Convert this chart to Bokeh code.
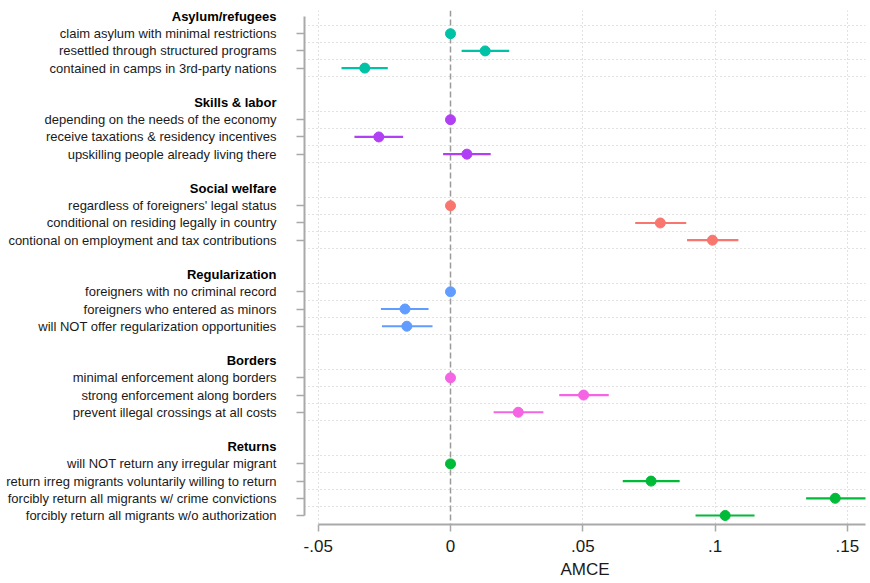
from bokeh.plotting import figure
from bokeh.layouts import row
from bokeh.models import Range1d, FixedTicker, Span, ColumnDataSource
from bokeh.core.properties import value
from bokeh.embed import file_html
from bokeh.resources import INLINE

# ---------------- data ----------------
group_names = ["Asylum/refugees", "Skills & labor", "Social welfare",
               "Regularization", "Borders", "Returns"]
group_colors = ["#00C2A6", "#B140F5", "#F8766D", "#619CFF", "#F564E3", "#00BA38"]

level_labels = [
    "claim asylum with minimal restrictions",
    "resettled through structured programs",
    "contained in camps in 3rd-party nations",
    "depending on the needs of the economy",
    "receive taxations & residency incentives",
    "upskilling people already living there",
    "regardless of foreigners' legal status",
    "conditional on residing legally in country",
    "contional on employment and tax contributions",
    "foreigners with no criminal record",
    "foreigners who entered as minors",
    "will NOT offer regularization opportunities",
    "minimal enforcement along borders",
    "strong enforcement along borders",
    "prevent illegal crossings at all costs",
    "will NOT return any irregular migrant",
    "return irreg migrants voluntarily willing to return",
    "forcibly return all migrants w/ crime convictions",
    "forcibly return all migrants w/o authorization",
]
level_groups = [0, 0, 0, 1, 1, 1, 2, 2, 2, 3, 3, 3, 4, 4, 4, 5, 5, 5, 5]
estimates = [0.0, 0.0131, -0.0324,
             0.0, -0.0271, 0.0062,
             0.0, 0.0793, 0.0990,
             0.0, -0.0172, -0.0165,
             0.0, 0.0503, 0.0256,
             0.0, 0.0758, 0.1454, 0.1038]
ci_low = [None, 0.0042, -0.0412,
          None, -0.0363, -0.0028,
          None, 0.0698, 0.0894,
          None, -0.0263, -0.0259,
          None, 0.0411, 0.0163,
          None, 0.0651, 0.1344, 0.0926]
ci_high = [None, 0.0222, -0.0237,
           None, -0.0179, 0.0152,
           None, 0.0891, 0.1088,
           None, -0.0083, -0.0068,
           None, 0.0598, 0.0351,
           None, 0.0866, 0.1580, 0.1149]

x_ticks = [-0.05, 0.0, 0.05, 0.1, 0.15]
x_tick_labels = ["-.05", "0", ".05", ".1", ".15"]
x_axis_title = "AMCE"

# ---------------- row layout ----------------
header_rows = []
level_rows = []
r = 0
for g in range(len(group_names)):
    header_rows.append(r)
    r += 1
    for i, lg in enumerate(level_groups):
        if lg == g:
            level_rows.append(r)
            r += 1
    r += 1
last_row = level_rows[-1]
grid_rows = [k - 0.5 for k in range(1, last_row + 1) if k not in header_rows]

# ---------------- styling constants ----------------
FONT = "Liberation Sans"
AXIS_GRAY = "#a9a9a9"
TEXT_COL = "#1a1a1a"
TOTAL_W, TOTAL_H = 870, 583
LABEL_W = 290          # width of the label panel
TOP, BOTTOM = 10, 59   # frame borders
ROW_PX = 17.207        # pixels per row
ROW0_PX = 16           # page y of row 0

y_range = Range1d((TOTAL_H - BOTTOM - ROW0_PX) / ROW_PX, (TOP - ROW0_PX) / ROW_PX)

# ---------------- label panel (left) ----------------
pl = figure(width=LABEL_W, height=TOTAL_H, output_backend="svg", toolbar_location=None,
            x_range=Range1d(0, LABEL_W), y_range=y_range,
            x_axis_location=None, y_axis_location=None,
            min_border_left=0, min_border_right=0,
            min_border_top=TOP, min_border_bottom=BOTTOM)
pl.outline_line_color = None
pl.xgrid.visible = False
pl.ygrid.visible = False

label_x = LABEL_W - 14
pl.text(x=[label_x] * len(level_labels), y=level_rows, text=level_labels,
        text_align="right", text_baseline="middle",
        text_font=value(FONT), text_font_size="13px", text_color=TEXT_COL)
pl.text(x=[label_x] * len(group_names), y=header_rows, text=group_names,
        text_align="right", text_baseline="middle",
        text_font=value(FONT), text_font_size="13px", text_font_style="bold",
        text_color="#000000")

# ---------------- coefficient panel (right) ----------------
p = figure(width=TOTAL_W - LABEL_W, height=TOTAL_H, output_backend="svg",
           toolbar_location=None,
           x_range=Range1d(-0.05518, 0.15684), y_range=y_range,
           min_border_left=14, min_border_right=5,
           min_border_top=TOP, min_border_bottom=BOTTOM)
p.outline_line_color = None

xa = p.xaxis[0]
xa.ticker = FixedTicker(ticks=x_ticks)
xa.major_label_overrides = {t: l for t, l in zip(x_ticks, x_tick_labels)}
xa.bounds = (x_ticks[0], 0.15684)
xa.axis_line_color = AXIS_GRAY
xa.axis_line_width = 2
xa.major_tick_line_color = AXIS_GRAY
xa.major_tick_line_width = 1.5
xa.major_tick_in = 0
xa.major_tick_out = 7
xa.minor_tick_line_color = None
xa.major_label_text_font = FONT
xa.major_label_text_font_size = "17px"
xa.major_label_text_color = TEXT_COL
xa.major_label_standoff = 8
xa.axis_label = x_axis_title
xa.axis_label_text_font = FONT
xa.axis_label_text_font_size = "17px"
xa.axis_label_text_font_style = "normal"
xa.axis_label_text_color = TEXT_COL
xa.axis_label_standoff = 5

ya = p.yaxis[0]
ya.ticker = FixedTicker(ticks=level_rows)
ya.major_label_overrides = {k: "" for k in level_rows}
ya.major_label_text_font_size = "0px"
ya.major_label_standoff = 0
ya.bounds = (header_rows[0], last_row)
ya.axis_line_color = AXIS_GRAY
ya.axis_line_width = 2
ya.major_tick_line_color = AXIS_GRAY
ya.major_tick_line_width = 1.5
ya.major_tick_in = 0
ya.major_tick_out = 8
ya.minor_tick_line_color = None

p.xgrid.ticker = FixedTicker(ticks=[t for t in x_ticks if t != 0])
p.xgrid.grid_line_color = "#c4c4c4"
p.xgrid.grid_line_dash = "1 3"
p.ygrid.ticker = FixedTicker(ticks=grid_rows)
p.ygrid.grid_line_color = "#c4c4c4"
p.ygrid.grid_line_dash = "1 3"

p.add_layout(Span(location=0, dimension="height", line_color="#9a9a9a",
                  line_dash="6 3", line_width=1.5, level="underlay"))

seg = dict(x0=[], x1=[], y=[], color=[])
pts = dict(x=[], y=[], color=[])
for i in range(len(level_labels)):
    c = group_colors[level_groups[i]]
    if ci_low[i] is not None:
        seg["x0"].append(ci_low[i])
        seg["x1"].append(ci_high[i])
        seg["y"].append(level_rows[i])
        seg["color"].append(c)
    pts["x"].append(estimates[i])
    pts["y"].append(level_rows[i])
    pts["color"].append(c)

p.segment(x0="x0", x1="x1", y0="y", y1="y", color="color", line_width=2.2,
          source=ColumnDataSource(seg))
p.scatter(x="x", y="y", color="color", size=10, source=ColumnDataSource(pts))

layout = row(pl, p)
open("out.html", "w").write(file_html(layout, INLINE))
